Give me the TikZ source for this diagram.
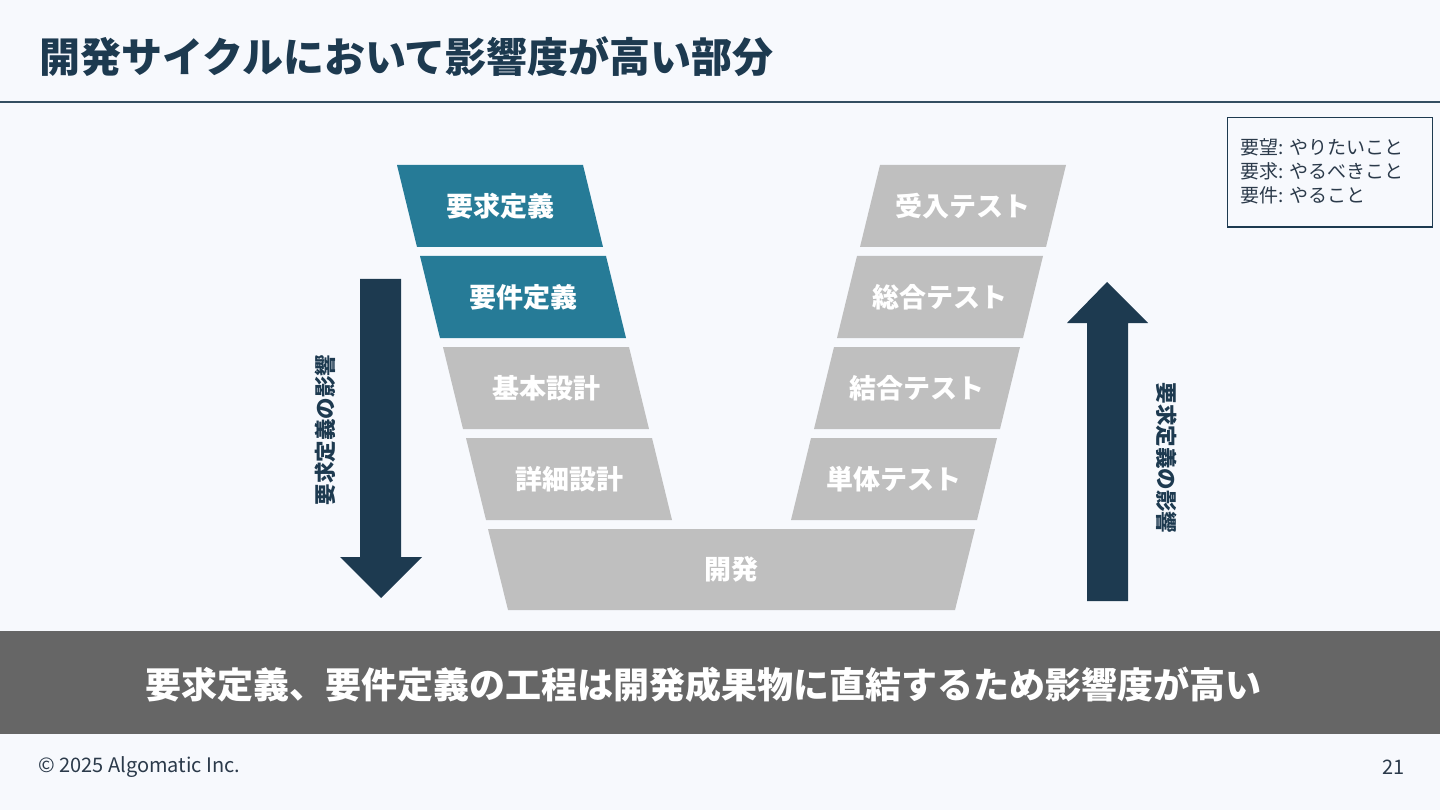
\documentclass[tikz,border=0pt]{standalone}
\usepackage{fontspec}
\setmainfont{Noto Sans CJK JP}
\definecolor{bg}{HTML}{F7F9FD}
\definecolor{navy}{HTML}{1D3A50}
\definecolor{teal}{HTML}{267B97}
\definecolor{boxgray}{HTML}{BFBFBF}
\definecolor{banner}{HTML}{666666}
\definecolor{legendtext}{HTML}{2B3A4A}
\tikzset{
  steplabel/.style={text=white, font=\bfseries\fontsize{27}{30}\selectfont, inner sep=0pt},
  sidelabel/.style={text=navy, font=\bfseries\fontsize{21.5}{24}\selectfont, inner sep=0pt},
  blockarrow/.style={fill=navy},
}
\begin{document}
\begin{tikzpicture}[x=1pt,y=-1pt]
\fill[bg] (0,0) rectangle (1440,810);
\useasboundingbox (0,0) rectangle (1440,810);
% title
\node[anchor=west, text=navy, font=\bfseries\fontsize{41}{45}\selectfont, inner sep=0pt] (title) at (39,57) {開発サイクルにおいて影響度が高い部分};
\draw[navy!90, line width=2pt] (0,102.5) -- (1440,102.5);
% left steps
\fill[teal] (397,165) -- (583,165) -- (603,247) -- (417,247) -- cycle;
\node[steplabel] (s1) at (500,206) {要求定義};
\fill[teal] (420,256) -- (606,256) -- (626,338) -- (440,338) -- cycle;
\node[steplabel] (s2) at (523,297) {要件定義};
\fill[boxgray] (443,347) -- (629,347) -- (649,429) -- (463,429) -- cycle;
\node[steplabel] (s3) at (546,388) {基本設計};
\fill[boxgray] (466,438) -- (652,438) -- (672,520) -- (486,520) -- cycle;
\node[steplabel] (s4) at (569,479) {詳細設計};
% bottom
\fill[boxgray] (488,529) -- (975,529) -- (955,610) -- (508,610) -- cycle;
\node[steplabel] (dev) at (731.5,569) {開発};
% right steps
\fill[boxgray] (880,165) -- (1066,165) -- (1046,247) -- (860,247) -- cycle;
\node[steplabel] (t1) at (963,206) {受入テスト};
\fill[boxgray] (857,256) -- (1043,256) -- (1023,338) -- (837,338) -- cycle;
\node[steplabel] (t2) at (940,297) {総合テスト};
\fill[boxgray] (834,347) -- (1020,347) -- (1000,429) -- (814,429) -- cycle;
\node[steplabel] (t3) at (917,388) {結合テスト};
\fill[boxgray] (811,438) -- (997,438) -- (977,520) -- (791,520) -- cycle;
\node[steplabel] (t4) at (894,479) {単体テスト};
% arrows
\fill[blockarrow] (360,279) -- (401,279) -- (401,557) -- (422,557) -- (381,598) -- (340,557) -- (360,557) -- cycle;
\node[sidelabel, rotate=90] (la) at (325,430) {要求定義の影響};
\fill[blockarrow] (1087,601) -- (1128,601) -- (1128,323) -- (1148,323) -- (1107,282) -- (1067,323) -- (1087,323) -- cycle;
\node[sidelabel, rotate=-90] (ra) at (1167,458) {要求定義の影響};
% legend
\draw[navy, line width=1.8pt] (1227.5,117.5) rectangle (1432.5,227);
\node[anchor=west, align=left, text=legendtext, font=\fontsize{19}{24}\selectfont, inner sep=0pt] (legend) at (1240,171) {要望: やりたいこと\\要求: やるべきこと\\要件: やること};
% banner
\fill[banner] (0,631) rectangle (1440,734);
\node[text=white, font=\bfseries\fontsize{36}{40}\selectfont, inner sep=0pt] (msg) at (703.5,685) {要求定義、要件定義の工程は開発成果物に直結するため影響度が高い};
% footer
\node[anchor=west, text=legendtext, font=\fontsize{20}{22}\selectfont, inner sep=0pt] (copy) at (38,767) {© 2025 Algomatic Inc.};
\node[anchor=east, text=legendtext, font=\fontsize{20}{22}\selectfont, inner sep=0pt] (page) at (1405,767) {21};
\end{tikzpicture}
\end{document}
